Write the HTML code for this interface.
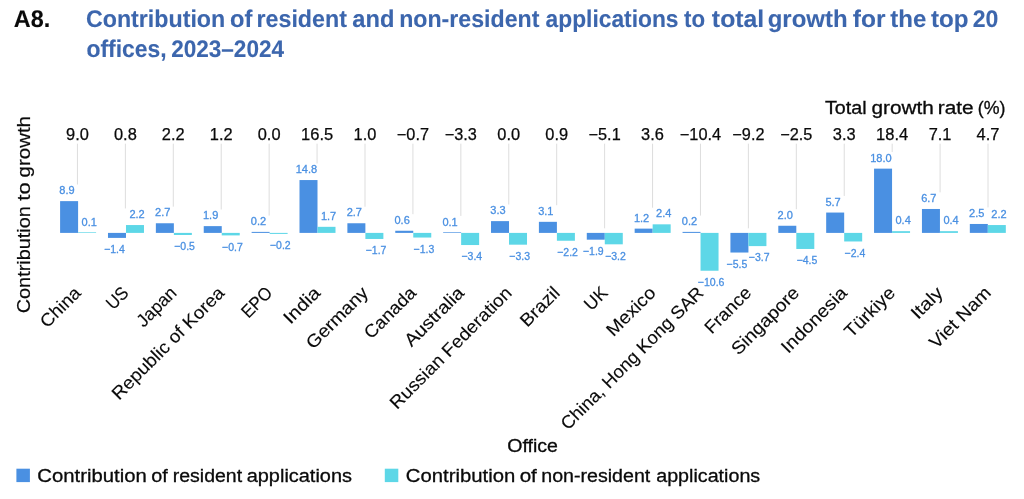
<!DOCTYPE html>
<html lang="en"><head><meta charset="utf-8"><title>A8. Contribution of resident and non-resident applications to total growth for the top 20 offices, 2023–2024</title>
<style>
html,body{margin:0;padding:0;background:#fff;}
body{width:1024px;height:499px;overflow:hidden;font-family:"Liberation Sans",sans-serif;}
svg{display:block;font-family:"Liberation Sans",sans-serif;}
.t{font-weight:bold;font-size:24px;stroke-width:0.1px;text-rendering:geometricPrecision;}
.ax{font-size:18px;fill:#0a0a0a;stroke:#0a0a0a;stroke-width:0.3px;}
.rt{font-size:18px;fill:#0a0a0a;stroke:#0a0a0a;stroke-width:0.12px;}
.rt2{font-size:18px;fill:#0a0a0a;stroke:#0a0a0a;stroke-width:0.2px;}
.tv{font-size:16px;fill:#0a0a0a;stroke:#0a0a0a;stroke-width:0.25px;}
.bl{font-size:11px;fill:#4a90e2;stroke:#4a90e2;stroke-width:0.3px;}
</style></head><body>
<svg width="1024" height="499" viewBox="0 0 1024 499">
<rect width="1024" height="499" fill="#fff"/>
<text class="t" y="27" fill="#0a0a0a" stroke="#0a0a0a"><tspan x="13.76" textLength="36.41" lengthAdjust="spacingAndGlyphs">A8.</tspan></text>
<text class="t" y="27" fill="#3c66ad" stroke="#3c66ad"><tspan x="85.94" textLength="139.25" lengthAdjust="spacingAndGlyphs">Contribution</tspan> <tspan x="229.96" textLength="22.33" lengthAdjust="spacingAndGlyphs">of</tspan> <tspan x="256.51" textLength="90.47" lengthAdjust="spacingAndGlyphs">resident</tspan> <tspan x="352.33" textLength="42.10" lengthAdjust="spacingAndGlyphs">and</tspan> <tspan x="399.17" textLength="140.24" lengthAdjust="spacingAndGlyphs">non-resident</tspan> <tspan x="545.54" textLength="133.02" lengthAdjust="spacingAndGlyphs">applications</tspan> <tspan x="683.97" textLength="21.05" lengthAdjust="spacingAndGlyphs">to</tspan> <tspan x="711.88" textLength="52.37" lengthAdjust="spacingAndGlyphs">total</tspan> <tspan x="767.71" textLength="79.89" lengthAdjust="spacingAndGlyphs">growth</tspan> <tspan x="852.81" textLength="32.69" lengthAdjust="spacingAndGlyphs">for</tspan> <tspan x="890.37" textLength="36.08" lengthAdjust="spacingAndGlyphs">the</tspan> <tspan x="930.92" textLength="37.55" lengthAdjust="spacingAndGlyphs">top</tspan> <tspan x="972.72" textLength="25.64" lengthAdjust="spacingAndGlyphs">20</tspan></text>
<text class="t" y="57" fill="#3c66ad" stroke="#3c66ad"><tspan x="86.38" textLength="80.37" lengthAdjust="spacingAndGlyphs">offices,</tspan> <tspan x="171.13" textLength="112.95" lengthAdjust="spacingAndGlyphs">2023–2024</tspan></text>
<text class="ax" y="114"><tspan x="824.98" textLength="41.64" lengthAdjust="spacingAndGlyphs">Total</tspan> <tspan x="871.59" textLength="62.29" lengthAdjust="spacingAndGlyphs">growth</tspan> <tspan x="937.83" textLength="35.87" lengthAdjust="spacingAndGlyphs">rate</tspan> <tspan x="977.76" textLength="27.64" lengthAdjust="spacingAndGlyphs">(%)</tspan></text>
<text class="rt2" y="0" transform="translate(30.1,313) rotate(-90)"><tspan x="-0.29" textLength="107.07" lengthAdjust="spacingAndGlyphs">Contribution</tspan> <tspan x="112.38" textLength="18.33" lengthAdjust="spacingAndGlyphs">to</tspan> <tspan x="135.54" textLength="61.48" lengthAdjust="spacingAndGlyphs">growth</tspan></text>
<line x1="77.45" y1="143.7" x2="77.45" y2="184.53" stroke="#d9d9d9" stroke-width="0.9"/>
<text class="tv" x="66.04" y="140.00" textLength="22.8" lengthAdjust="spacingAndGlyphs">9.0</text>
<line x1="125.38" y1="143.7" x2="125.38" y2="208.45" stroke="#d9d9d9" stroke-width="0.9"/>
<text class="tv" x="113.97" y="140.00" textLength="22.8" lengthAdjust="spacingAndGlyphs">0.8</text>
<line x1="173.30" y1="143.7" x2="173.30" y2="206.66" stroke="#d9d9d9" stroke-width="0.9"/>
<text class="tv" x="161.89" y="140.00" textLength="22.8" lengthAdjust="spacingAndGlyphs">2.2</text>
<line x1="221.22" y1="143.7" x2="221.22" y2="209.52" stroke="#d9d9d9" stroke-width="0.9"/>
<text class="tv" x="209.82" y="140.00" textLength="22.8" lengthAdjust="spacingAndGlyphs">1.2</text>
<line x1="269.15" y1="143.7" x2="269.15" y2="215.59" stroke="#d9d9d9" stroke-width="0.9"/>
<text class="tv" x="257.74" y="140.00" textLength="22.8" lengthAdjust="spacingAndGlyphs">0.0</text>
<line x1="317.07" y1="143.7" x2="317.07" y2="163.46" stroke="#d9d9d9" stroke-width="0.9"/>
<text class="tv" x="301.04" y="140.00" textLength="32.1" lengthAdjust="spacingAndGlyphs">16.5</text>
<line x1="365.00" y1="143.7" x2="365.00" y2="206.66" stroke="#d9d9d9" stroke-width="0.9"/>
<text class="tv" x="353.59" y="140.00" textLength="22.8" lengthAdjust="spacingAndGlyphs">1.0</text>
<line x1="412.92" y1="143.7" x2="412.92" y2="214.16" stroke="#d9d9d9" stroke-width="0.9"/>
<text class="tv" x="396.89" y="140.00" textLength="32.1" lengthAdjust="spacingAndGlyphs">−0.7</text>
<line x1="460.85" y1="143.7" x2="460.85" y2="215.94" stroke="#d9d9d9" stroke-width="0.9"/>
<text class="tv" x="444.82" y="140.00" textLength="32.1" lengthAdjust="spacingAndGlyphs">−3.3</text>
<line x1="508.77" y1="143.7" x2="508.77" y2="204.52" stroke="#d9d9d9" stroke-width="0.9"/>
<text class="tv" x="497.37" y="140.00" textLength="22.8" lengthAdjust="spacingAndGlyphs">0.0</text>
<line x1="556.70" y1="143.7" x2="556.70" y2="205.23" stroke="#d9d9d9" stroke-width="0.9"/>
<text class="tv" x="545.29" y="140.00" textLength="22.8" lengthAdjust="spacingAndGlyphs">0.9</text>
<line x1="604.62" y1="143.7" x2="604.62" y2="228.30" stroke="#d9d9d9" stroke-width="0.9"/>
<text class="tv" x="588.59" y="140.00" textLength="32.1" lengthAdjust="spacingAndGlyphs">−5.1</text>
<line x1="652.55" y1="143.7" x2="652.55" y2="207.73" stroke="#d9d9d9" stroke-width="0.9"/>
<text class="tv" x="641.14" y="140.00" textLength="22.8" lengthAdjust="spacingAndGlyphs">3.6</text>
<line x1="700.48" y1="143.7" x2="700.48" y2="215.59" stroke="#d9d9d9" stroke-width="0.9"/>
<text class="tv" x="679.82" y="140.00" textLength="41.3" lengthAdjust="spacingAndGlyphs">−10.4</text>
<line x1="748.40" y1="143.7" x2="748.40" y2="228.30" stroke="#d9d9d9" stroke-width="0.9"/>
<text class="tv" x="732.37" y="140.00" textLength="32.1" lengthAdjust="spacingAndGlyphs">−9.2</text>
<line x1="796.33" y1="143.7" x2="796.33" y2="209.16" stroke="#d9d9d9" stroke-width="0.9"/>
<text class="tv" x="780.29" y="140.00" textLength="32.1" lengthAdjust="spacingAndGlyphs">−2.5</text>
<line x1="844.25" y1="143.7" x2="844.25" y2="195.95" stroke="#d9d9d9" stroke-width="0.9"/>
<text class="tv" x="832.84" y="140.00" textLength="22.8" lengthAdjust="spacingAndGlyphs">3.3</text>
<line x1="892.17" y1="143.7" x2="892.17" y2="152.04" stroke="#d9d9d9" stroke-width="0.9"/>
<text class="tv" x="876.14" y="140.00" textLength="32.1" lengthAdjust="spacingAndGlyphs">18.4</text>
<line x1="940.10" y1="143.7" x2="940.10" y2="192.38" stroke="#d9d9d9" stroke-width="0.9"/>
<text class="tv" x="928.69" y="140.00" textLength="22.8" lengthAdjust="spacingAndGlyphs">7.1</text>
<line x1="988.02" y1="143.7" x2="988.02" y2="207.38" stroke="#d9d9d9" stroke-width="0.9"/>
<text class="tv" x="976.62" y="140.00" textLength="22.8" lengthAdjust="spacingAndGlyphs">4.7</text>
<rect x="60.10" y="201.13" width="18.00" height="31.77" fill="#4a90e2"/>
<text class="bl" x="59.35" y="194.13" textLength="15.3" lengthAdjust="spacingAndGlyphs">8.9</text>
<rect x="78.10" y="232.24" width="18.00" height="0.66" fill="#5dd7e7"/>
<text class="bl" x="81.55" y="225.54" textLength="15.3" lengthAdjust="spacingAndGlyphs">0.1</text>
<rect x="107.98" y="232.90" width="18.00" height="5.00" fill="#4a90e2"/>
<text class="bl" x="104.13" y="253.10" textLength="20.7" lengthAdjust="spacingAndGlyphs">−1.4</text>
<rect x="125.98" y="225.05" width="18.00" height="7.85" fill="#5dd7e7"/>
<text class="bl" x="129.43" y="218.05" textLength="15.3" lengthAdjust="spacingAndGlyphs">2.2</text>
<rect x="155.86" y="223.26" width="18.00" height="9.64" fill="#4a90e2"/>
<text class="bl" x="155.11" y="216.26" textLength="15.3" lengthAdjust="spacingAndGlyphs">2.7</text>
<rect x="173.86" y="232.90" width="18.00" height="2.08" fill="#5dd7e7"/>
<text class="bl" x="174.21" y="249.88" textLength="20.7" lengthAdjust="spacingAndGlyphs">−0.5</text>
<rect x="203.74" y="226.12" width="18.00" height="6.78" fill="#4a90e2"/>
<text class="bl" x="202.99" y="219.12" textLength="15.3" lengthAdjust="spacingAndGlyphs">1.9</text>
<rect x="221.74" y="232.90" width="18.00" height="2.50" fill="#5dd7e7"/>
<text class="bl" x="222.09" y="250.60" textLength="20.7" lengthAdjust="spacingAndGlyphs">−0.7</text>
<rect x="251.62" y="231.89" width="18.00" height="1.01" fill="#4a90e2"/>
<text class="bl" x="250.87" y="225.19" textLength="15.3" lengthAdjust="spacingAndGlyphs">0.2</text>
<rect x="269.62" y="232.90" width="18.00" height="1.01" fill="#5dd7e7"/>
<text class="bl" x="269.97" y="248.81" textLength="20.7" lengthAdjust="spacingAndGlyphs">−0.2</text>
<rect x="299.50" y="180.06" width="18.00" height="52.84" fill="#4a90e2"/>
<text class="bl" x="295.65" y="173.06" textLength="21.5" lengthAdjust="spacingAndGlyphs">14.8</text>
<rect x="317.50" y="226.83" width="18.00" height="6.07" fill="#5dd7e7"/>
<text class="bl" x="320.95" y="219.83" textLength="15.3" lengthAdjust="spacingAndGlyphs">1.7</text>
<rect x="347.38" y="223.26" width="18.00" height="9.64" fill="#4a90e2"/>
<text class="bl" x="346.63" y="216.26" textLength="15.3" lengthAdjust="spacingAndGlyphs">2.7</text>
<rect x="365.38" y="232.90" width="18.00" height="6.07" fill="#5dd7e7"/>
<text class="bl" x="365.73" y="254.17" textLength="20.7" lengthAdjust="spacingAndGlyphs">−1.7</text>
<rect x="395.26" y="230.76" width="18.00" height="2.14" fill="#4a90e2"/>
<text class="bl" x="394.51" y="223.76" textLength="15.3" lengthAdjust="spacingAndGlyphs">0.6</text>
<rect x="413.26" y="232.90" width="18.00" height="4.64" fill="#5dd7e7"/>
<text class="bl" x="413.61" y="252.74" textLength="20.7" lengthAdjust="spacingAndGlyphs">−1.3</text>
<rect x="443.14" y="232.24" width="18.00" height="0.66" fill="#4a90e2"/>
<text class="bl" x="442.39" y="225.54" textLength="15.3" lengthAdjust="spacingAndGlyphs">0.1</text>
<rect x="461.14" y="232.90" width="18.00" height="12.14" fill="#5dd7e7"/>
<text class="bl" x="461.49" y="260.24" textLength="20.7" lengthAdjust="spacingAndGlyphs">−3.4</text>
<rect x="491.02" y="221.12" width="18.00" height="11.78" fill="#4a90e2"/>
<text class="bl" x="490.27" y="214.12" textLength="15.3" lengthAdjust="spacingAndGlyphs">3.3</text>
<rect x="509.02" y="232.90" width="18.00" height="11.78" fill="#5dd7e7"/>
<text class="bl" x="509.37" y="259.88" textLength="20.7" lengthAdjust="spacingAndGlyphs">−3.3</text>
<rect x="538.90" y="221.83" width="18.00" height="11.07" fill="#4a90e2"/>
<text class="bl" x="538.15" y="214.83" textLength="15.3" lengthAdjust="spacingAndGlyphs">3.1</text>
<rect x="556.90" y="232.90" width="18.00" height="7.85" fill="#5dd7e7"/>
<text class="bl" x="557.25" y="255.95" textLength="20.7" lengthAdjust="spacingAndGlyphs">−2.2</text>
<rect x="586.78" y="232.90" width="18.00" height="6.78" fill="#4a90e2"/>
<text class="bl" x="582.93" y="254.88" textLength="20.7" lengthAdjust="spacingAndGlyphs">−1.9</text>
<rect x="604.78" y="232.90" width="18.00" height="11.42" fill="#5dd7e7"/>
<text class="bl" x="605.13" y="259.52" textLength="20.7" lengthAdjust="spacingAndGlyphs">−3.2</text>
<rect x="634.66" y="228.62" width="18.00" height="4.28" fill="#4a90e2"/>
<text class="bl" x="633.91" y="221.62" textLength="15.3" lengthAdjust="spacingAndGlyphs">1.2</text>
<rect x="652.66" y="224.33" width="18.00" height="8.57" fill="#5dd7e7"/>
<text class="bl" x="656.11" y="217.33" textLength="15.3" lengthAdjust="spacingAndGlyphs">2.4</text>
<rect x="682.54" y="231.89" width="18.00" height="1.01" fill="#4a90e2"/>
<text class="bl" x="681.79" y="225.19" textLength="15.3" lengthAdjust="spacingAndGlyphs">0.2</text>
<rect x="700.54" y="232.90" width="18.00" height="37.84" fill="#5dd7e7"/>
<text class="bl" x="697.79" y="285.94" textLength="26.7" lengthAdjust="spacingAndGlyphs">−10.6</text>
<rect x="730.42" y="232.90" width="18.00" height="19.63" fill="#4a90e2"/>
<text class="bl" x="726.57" y="267.74" textLength="20.7" lengthAdjust="spacingAndGlyphs">−5.5</text>
<rect x="748.42" y="232.90" width="18.00" height="13.21" fill="#5dd7e7"/>
<text class="bl" x="748.77" y="261.31" textLength="20.7" lengthAdjust="spacingAndGlyphs">−3.7</text>
<rect x="778.30" y="225.76" width="18.00" height="7.14" fill="#4a90e2"/>
<text class="bl" x="777.55" y="218.76" textLength="15.3" lengthAdjust="spacingAndGlyphs">2.0</text>
<rect x="796.30" y="232.90" width="18.00" height="16.06" fill="#5dd7e7"/>
<text class="bl" x="796.65" y="264.17" textLength="20.7" lengthAdjust="spacingAndGlyphs">−4.5</text>
<rect x="826.18" y="212.55" width="18.00" height="20.35" fill="#4a90e2"/>
<text class="bl" x="825.43" y="205.55" textLength="15.3" lengthAdjust="spacingAndGlyphs">5.7</text>
<rect x="844.18" y="232.90" width="18.00" height="8.57" fill="#5dd7e7"/>
<text class="bl" x="844.53" y="256.67" textLength="20.7" lengthAdjust="spacingAndGlyphs">−2.4</text>
<rect x="874.06" y="168.64" width="18.00" height="64.26" fill="#4a90e2"/>
<text class="bl" x="870.21" y="161.64" textLength="21.5" lengthAdjust="spacingAndGlyphs">18.0</text>
<rect x="892.06" y="231.17" width="18.00" height="1.73" fill="#5dd7e7"/>
<text class="bl" x="895.51" y="224.47" textLength="15.3" lengthAdjust="spacingAndGlyphs">0.4</text>
<rect x="921.94" y="208.98" width="18.00" height="23.92" fill="#4a90e2"/>
<text class="bl" x="921.19" y="201.98" textLength="15.3" lengthAdjust="spacingAndGlyphs">6.7</text>
<rect x="939.94" y="231.17" width="18.00" height="1.73" fill="#5dd7e7"/>
<text class="bl" x="943.39" y="224.47" textLength="15.3" lengthAdjust="spacingAndGlyphs">0.4</text>
<rect x="969.82" y="223.97" width="18.00" height="8.92" fill="#4a90e2"/>
<text class="bl" x="969.07" y="216.97" textLength="15.3" lengthAdjust="spacingAndGlyphs">2.5</text>
<rect x="987.82" y="225.05" width="18.00" height="7.85" fill="#5dd7e7"/>
<text class="bl" x="991.27" y="218.05" textLength="15.3" lengthAdjust="spacingAndGlyphs">2.2</text>
<text class="rt" transform="translate(47.19,328.71) rotate(-45)" textLength="49.1" lengthAdjust="spacingAndGlyphs">China</text>
<text class="rt" transform="translate(113.26,310.54) rotate(-45)" textLength="23.4" lengthAdjust="spacingAndGlyphs">US</text>
<text class="rt" transform="translate(143.75,327.95) rotate(-45)" textLength="48.0" lengthAdjust="spacingAndGlyphs">Japan</text>
<text class="rt" transform="translate(118.88,400.72) rotate(-45)" textLength="150.9" lengthAdjust="spacingAndGlyphs">Republic of Korea</text>
<text class="rt" transform="translate(248.41,319.09) rotate(-45)" textLength="35.5" lengthAdjust="spacingAndGlyphs">EPO</text>
<text class="rt" transform="translate(290.51,324.89) rotate(-45)" textLength="43.7" lengthAdjust="spacingAndGlyphs">India</text>
<text class="rt" transform="translate(313.37,349.93) rotate(-45)" textLength="79.1" lengthAdjust="spacingAndGlyphs">Germany</text>
<text class="rt" transform="translate(371.36,339.84) rotate(-45)" textLength="64.8" lengthAdjust="spacingAndGlyphs">Canada</text>
<text class="rt" transform="translate(411.51,347.59) rotate(-45)" textLength="75.8" lengthAdjust="spacingAndGlyphs">Australia</text>
<text class="rt" transform="translate(397.08,409.92) rotate(-45)" textLength="163.9" lengthAdjust="spacingAndGlyphs">Russian Federation</text>
<text class="rt" transform="translate(527.18,327.72) rotate(-45)" textLength="47.7" lengthAdjust="spacingAndGlyphs">Brazil</text>
<text class="rt" transform="translate(591.36,311.44) rotate(-45)" textLength="24.7" lengthAdjust="spacingAndGlyphs">UK</text>
<text class="rt" transform="translate(613.51,337.19) rotate(-45)" textLength="61.1" lengthAdjust="spacingAndGlyphs">Mexico</text>
<text class="rt" transform="translate(567.91,430.69) rotate(-45)" textLength="193.3" lengthAdjust="spacingAndGlyphs">China, Hong Kong SAR</text>
<text class="rt" transform="translate(711.74,334.76) rotate(-45)" textLength="57.6" lengthAdjust="spacingAndGlyphs">France</text>
<text class="rt" transform="translate(738.42,355.98) rotate(-45)" textLength="87.7" lengthAdjust="spacingAndGlyphs">Singapore</text>
<text class="rt" transform="translate(788.14,354.16) rotate(-45)" textLength="85.1" lengthAdjust="spacingAndGlyphs">Indonesia</text>
<text class="rt" transform="translate(851.59,338.61) rotate(-45)" textLength="63.1" lengthAdjust="spacingAndGlyphs">Türkiye</text>
<text class="rt" transform="translate(917.89,320.21) rotate(-45)" textLength="37.1" lengthAdjust="spacingAndGlyphs">Italy</text>
<text class="rt" transform="translate(936.46,349.54) rotate(-45)" textLength="78.5" lengthAdjust="spacingAndGlyphs">Viet Nam</text>
<text class="ax" y="452"><tspan x="507.29" textLength="50.67" lengthAdjust="spacingAndGlyphs">Office</tspan></text>
<rect x="16.4" y="468.7" width="13.5" height="13.4" fill="#4a90e2"/>
<text class="ax" y="482"><tspan x="37.38" textLength="109.38" lengthAdjust="spacingAndGlyphs">Contribution</tspan> <tspan x="151.39" textLength="16.48" lengthAdjust="spacingAndGlyphs">of</tspan> <tspan x="172.74" textLength="69.38" lengthAdjust="spacingAndGlyphs">resident</tspan> <tspan x="246.69" textLength="105.30" lengthAdjust="spacingAndGlyphs">applications</tspan></text>
<rect x="384.8" y="468.7" width="13.5" height="13.4" fill="#5dd7e7"/>
<text class="ax" y="482"><tspan x="405.88" textLength="109.38" lengthAdjust="spacingAndGlyphs">Contribution</tspan> <tspan x="519.65" textLength="17.20" lengthAdjust="spacingAndGlyphs">of</tspan> <tspan x="541.25" textLength="109.03" lengthAdjust="spacingAndGlyphs">non-resident</tspan> <tspan x="656.21" textLength="103.98" lengthAdjust="spacingAndGlyphs">applications</tspan></text>
</svg></body></html>
